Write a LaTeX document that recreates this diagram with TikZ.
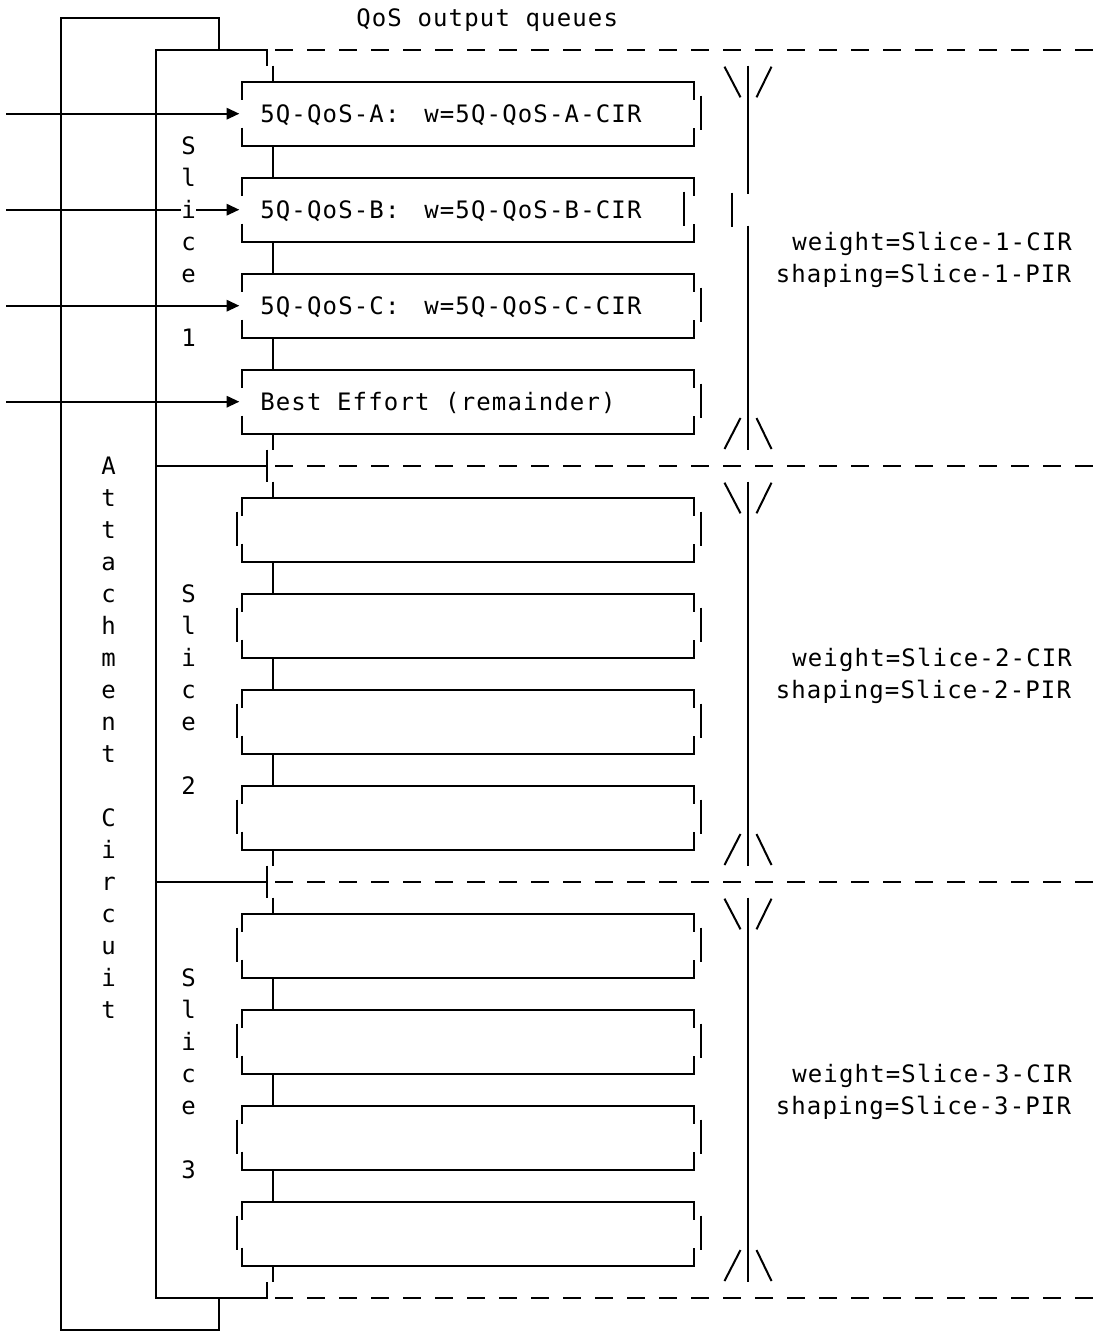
\documentclass[tikz,border=0pt]{standalone}
\usepackage{fontspec}
\usetikzlibrary{arrows.meta}
\newfontfamily\asciifont[LetterSpace=4.8]{DejaVu Sans Mono}
\newcommand\asciisize{\fontsize{18pt}{21.6pt}\selectfont}
\tikzset{
  ln/.style={line width=1.5pt},
  dsh/.style={line width=1.5pt, dash pattern=on 13.5pt off 10.5pt},
  lbl/.style={font=\asciifont\asciisize, inner sep=0pt, anchor=base west},
  chr/.style={font=\asciifont\asciisize, inner sep=0pt, anchor=base},
  qbox/.style={minimum width=339.225pt, minimum height=48pt, inner sep=0pt, outer sep=0pt},
  arr/.style={line width=1.5pt, -{Triangle[length=9.5pt,width=8.5pt]}, shorten >=2pt},
}
% outline of one queue box: #1 node name, #2 xshift (pt) of right middle bar, #3 draw left middle bar (1/0)
\newcommand\qoutline[3]{%
  \draw[ln] ([yshift=-13.5pt]#1.north west) -- (#1.north west) -- (#1.north east) -- ([yshift=-13.5pt]#1.north east);
  \draw[ln] ([yshift=13.5pt]#1.south west) -- (#1.south west) -- (#1.south east) -- ([yshift=13.5pt]#1.south east);
  \ifnum#3=1
  \draw[ln] ([xshift=-4.1pt,yshift=-10.5pt]#1.north west) -- ([xshift=-4.1pt,yshift=-36pt]#1.north west);
  \fi
  \draw[ln] ([xshift=#2*1pt,yshift=-10.5pt]#1.north east) -- ([xshift=#2*1pt,yshift=-36pt]#1.north east);
}
\begin{document}
\begin{tikzpicture}[x=0.75pt,y=-0.75pt]
\useasboundingbox (0,0) rectangle (1094,1331);
\coordinate (cx) at (273.3,0);
% title
\node[lbl] (title) at (356,27) {QoS output queues};
% attachment circuit box and slices box
\draw[ln] (219,49.7) -- (219,17.7) -- (61,17.7) -- (61,1329.7) -- (219,1329.7) -- (219,1297.7);
\draw[ln] (267,65.7) -- (267,49.7) -- (156,49.7) -- (156,1297.7) -- (267,1297.7) -- (267,1281.7);
% dashed separators
\foreach \s in {0,1,2,3} {
  \draw[dsh] (275,{49.7+416*\s}) -- (1094,{49.7+416*\s});
}
\foreach \s in {1,2} {
  \draw[ln] (156,{49.7+416*\s}) -- (267,{49.7+416*\s});
  \draw[ln] (267,{33.7+416*\s}) -- (267,{65.7+416*\s});
}
% queue boxes
\foreach \s in {0,1,2} {
  \foreach \k in {0,1,2,3} {
    \node[qbox] (q\s\k) at (468.15,{113.7+416*\s+96*\k}) {};
    \pgfmathsetmacro\rb{and(\s==0,\k==1) ? -7.7 : 4.65}
    \pgfmathtruncatemacro\lb{\s==0 ? 0 : 1}
    \qoutline{q\s\k}{\rb}{\lb}
  }
  \draw[ln] (273.3,{65.7+416*\s}) -- (q\s0.north -| cx);
  \draw[ln] (q\s0.south -| cx) -- (q\s1.north -| cx);
  \draw[ln] (q\s1.south -| cx) -- (q\s2.north -| cx);
  \draw[ln] (q\s2.south -| cx) -- (q\s3.north -| cx);
  \draw[ln] (q\s3.south -| cx) -- (273.3,{449.7+416*\s});
}
% texts in slice 1 boxes
\node[lbl] (ta1) at (260,122.7) {5Q-QoS-A:};
\node[lbl] (ta2) at (424,122.7) {w=5Q-QoS-A-CIR};
\node[lbl] (tb1) at (260,218.7) {5Q-QoS-B:};
\node[lbl] (tb2) at (424,218.7) {w=5Q-QoS-B-CIR};
\node[lbl] (tc1) at (260,314.7) {5Q-QoS-C:};
\node[lbl] (tc2) at (424,314.7) {w=5Q-QoS-C-CIR};
\node[lbl] (tbe) at (260,410.7) {Best Effort (remainder)};
% input arrows
\foreach \r/\n in {113.7/0,209.7/1,305.7/2,401.7/3} {
  \coordinate (in\n) at (6,\r);
  \draw[arr] (in\n) -- (in\n -| q0\n.west);
}
% vertical texts
\foreach \c [count=\i from 0] in {S,l,i,c,e} {
  \node[chr,fill=white] (sa\i) at (188.5,{154.7+32*\i}) {\c};
  \node[chr] (sb\i) at (188.5,{602.7+32*\i}) {\c};
  \node[chr] (sc\i) at (188.5,{986.7+32*\i}) {\c};
}
\node[chr] (sa5) at (188.5,346.7) {1};
\node[chr] (sb5) at (188.5,794.7) {2};
\node[chr] (sc5) at (188.5,1178.7) {3};
\foreach \c [count=\i from 0] in {A,t,t,a,c,h,m,e,n,t} {
  \node[chr] (ac\i) at (108.5,{474.7+32*\i}) {\c};
}
\foreach \c [count=\i from 0] in {C,i,r,c,u,i,t} {
  \node[chr] (ci\i) at (108.5,{826.7+32*\i}) {\c};
}
% right side: per-slice bars and labels
\foreach \s in {0,1,2} {
  \pgfmathsetmacro\T{65.7+416*\s}
  \pgfmathsetmacro\B{449.7+416*\s}
  \draw[ln] (724.5,{\T+1}) -- (740.5,{\T+31.6});
  \draw[ln] (771.5,{\T+1}) -- (756.5,{\T+31.6});
  \draw[ln] (724.5,{\B-0.7}) -- (740.5,{\B-31.7});
  \draw[ln] (771.5,{\B-0.7}) -- (756.5,{\B-31.7});
  \node[lbl] (w\s) at (792,{250.7+416*\s}) {weight=Slice-\the\numexpr\s+1\relax-CIR};
  \node[lbl] (p\s) at (775.5,{282.7+416*\s}) {shaping=Slice-\the\numexpr\s+1\relax-PIR};
}
\draw[ln] (748,65.7) -- (748,193.7);
\draw[ln] (748,225.7) -- (748,449.7);
\draw[ln] (732,192.7) -- (732,227.3);
\draw[ln] (748,481.7) -- (748,865.7);
\draw[ln] (748,897.7) -- (748,1281.7);
\end{tikzpicture}
\end{document}
